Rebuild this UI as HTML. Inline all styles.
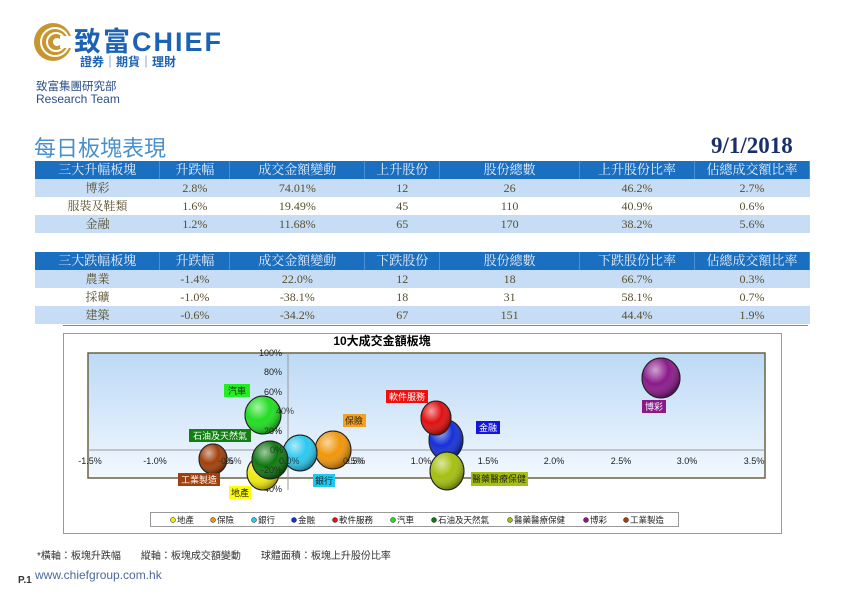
<!DOCTYPE html>
<html><head><meta charset="utf-8">
<style>
body{margin:0;width:842px;height:595px;background:#fff;position:relative;overflow:hidden;font-family:"Liberation Sans","Noto Sans CJK TC",sans-serif}
.a{position:absolute;white-space:nowrap}
table{position:absolute;left:35px;width:775px;border-collapse:collapse;font-family:"Liberation Serif","Noto Serif CJK SC",serif;font-size:12px;color:#5a4f2e}
td{text-align:center;height:18px;padding:0;line-height:18px}
tr.h td{background:#1b6fc0;color:#e8eef8;border-right:1px solid #4d8fd0;font-size:13px}
tr.b td{background:#c6ddf5}
tr.w td{background:#fff}
</style></head><body>
<svg class="a" style="left:33px;top:22px" width="40" height="40" viewBox="0 0 40 40">
<circle cx="20" cy="20" r="19" fill="#c8962e"/>
<circle cx="22" cy="20" r="14" fill="none" stroke="#fff" stroke-width="2"/>
<circle cx="23" cy="20" r="9" fill="none" stroke="#fff" stroke-width="2"/>
<circle cx="24" cy="20" r="4" fill="#fff"/>
<rect x="27" y="14" width="13" height="12" fill="#fff"/>
</svg>
<div class="a" style="left:74px;top:20px;font-size:27px;font-weight:bold;color:#1c63b5;letter-spacing:2px">致富CHIEF</div>
<div class="a" style="left:80px;top:53px;font-size:12px;color:#1c63b5;font-weight:bold">證券｜期貨｜理財</div>
<div class="a" style="left:36px;top:78px;font-size:11.5px;color:#2a4f8a">致富集團研究部</div>
<div class="a" style="left:36px;top:92px;font-size:12px;color:#2a4f8a">Research Team</div>
<div class="a" style="left:34px;top:131px;font-size:22px;color:#4a90cc">每日板塊表現</div>
<div class="a" style="left:711px;top:133px;font-size:23px;font-weight:bold;color:#1a2f6b;font-family:'Liberation Serif',serif">9/1/2018</div>
<table style="top:161px">
<colgroup><col style="width:125px"><col style="width:70px"><col style="width:135px"><col style="width:75px"><col style="width:140px"><col style="width:115px"><col style="width:115px"></colgroup>
<tr class="h"><td>三大升幅板塊</td><td>升跌幅</td><td>成交金額變動</td><td>上升股份</td><td>股份總數</td><td>上升股份比率</td><td>佔總成交額比率</td></tr>
<tr class="b"><td>博彩</td><td>2.8%</td><td>74.01%</td><td>12</td><td>26</td><td>46.2%</td><td>2.7%</td></tr>
<tr class="w"><td>服裝及鞋類</td><td>1.6%</td><td>19.49%</td><td>45</td><td>110</td><td>40.9%</td><td>0.6%</td></tr>
<tr class="b"><td>金融</td><td>1.2%</td><td>11.68%</td><td>65</td><td>170</td><td>38.2%</td><td>5.6%</td></tr>
</table>
<table style="top:252px">
<colgroup><col style="width:125px"><col style="width:70px"><col style="width:135px"><col style="width:75px"><col style="width:140px"><col style="width:115px"><col style="width:115px"></colgroup>
<tr class="h"><td>三大跌幅板塊</td><td>升跌幅</td><td>成交金額變動</td><td>下跌股份</td><td>股份總數</td><td>下跌股份比率</td><td>佔總成交額比率</td></tr>
<tr class="b"><td>農業</td><td>-1.4%</td><td>22.0%</td><td>12</td><td>18</td><td>66.7%</td><td>0.3%</td></tr>
<tr class="w"><td>採礦</td><td>-1.0%</td><td>-38.1%</td><td>18</td><td>31</td><td>58.1%</td><td>0.7%</td></tr>
<tr class="b"><td>建築</td><td>-0.6%</td><td>-34.2%</td><td>67</td><td>151</td><td>44.4%</td><td>1.9%</td></tr>
</table>
<div class="a" style="left:63px;top:325px;width:745px;height:1px;background:#888"></div>
<svg class="a" style="left:0;top:0" width="842" height="595" font-family="Liberation Sans,Noto Sans CJK TC,sans-serif">
<defs>
<linearGradient id="bg" x1="0" y1="0" x2="0" y2="1"><stop offset="0" stop-color="#bcd9f5"/><stop offset="1" stop-color="#f2f8ff"/></linearGradient>
<radialGradient id="sh" cx="0.35" cy="0.3" r="0.7"><stop offset="0" stop-color="#fff" stop-opacity="0.6"/><stop offset="0.5" stop-color="#fff" stop-opacity="0"/><stop offset="1" stop-color="#000" stop-opacity="0.35"/></radialGradient>
</defs>
<rect x="63.5" y="333.5" width="718" height="200" fill="#fff" stroke="#999"/>
<text x="382" y="345" font-size="12" font-weight="bold" text-anchor="middle" fill="#000">10大成交金額板塊</text>
<rect x="88" y="353" width="677" height="125" fill="url(#bg)" stroke="#6a6440" stroke-width="1.5"/>
<line x1="88" y1="450" x2="765" y2="450" stroke="#999"/>
<line x1="288" y1="353" x2="288" y2="490" stroke="#999"/>
<g font-size="9" fill="#222" text-anchor="end">
<text x="282" y="356">100%</text><text x="282" y="375">80%</text><text x="282" y="395">60%</text><text x="282" y="414">40%</text><text x="282" y="434">20%</text><text x="282" y="453">0%</text><text x="282" y="473">-20%</text><text x="282" y="492">-40%</text>
</g>
<g font-size="9" fill="#222" text-anchor="middle">
<text x="90" y="464">-1.5%</text><text x="155" y="464">-1.0%</text><text x="222" y="464">-0.5%</text><text x="288" y="464">0.0%</text><text x="355" y="464">0.5%</text><text x="421" y="464">1.0%</text><text x="488" y="464">1.5%</text><text x="554" y="464">2.0%</text><text x="621" y="464">2.5%</text><text x="687" y="464">3.0%</text><text x="754" y="464">3.5%</text>
</g>
<g stroke="#222" stroke-width="1">
<ellipse cx="661" cy="378" rx="19" ry="20" fill="#8a1a8a"/><ellipse cx="661" cy="378" rx="19" ry="20" fill="url(#sh)"/>
<ellipse cx="446" cy="440" rx="17" ry="20" fill="#1530d8"/><ellipse cx="446" cy="440" rx="17" ry="20" fill="url(#sh)"/>
<ellipse cx="436" cy="418" rx="15" ry="17" fill="#e01010"/><ellipse cx="436" cy="418" rx="15" ry="17" fill="url(#sh)"/>
<ellipse cx="447" cy="471" rx="17" ry="19" fill="#a5c010"/><ellipse cx="447" cy="471" rx="17" ry="19" fill="url(#sh)"/>
<ellipse cx="333" cy="450" rx="18" ry="19" fill="#f0960a"/><ellipse cx="333" cy="450" rx="18" ry="19" fill="url(#sh)"/>
<ellipse cx="300" cy="453" rx="17" ry="18" fill="#2cc8f0"/><ellipse cx="300" cy="453" rx="17" ry="18" fill="url(#sh)"/>
<ellipse cx="263" cy="415" rx="18" ry="19" fill="#22dd22"/><ellipse cx="263" cy="415" rx="18" ry="19" fill="url(#sh)"/>
<ellipse cx="263" cy="473" rx="16" ry="17" fill="#f0ea10"/><ellipse cx="263" cy="473" rx="16" ry="17" fill="url(#sh)"/>
<ellipse cx="270" cy="460" rx="18" ry="19" fill="#107810"/><ellipse cx="270" cy="460" rx="18" ry="19" fill="url(#sh)"/>
<ellipse cx="213" cy="459" rx="14" ry="15" fill="#a0400c"/><ellipse cx="213" cy="459" rx="14" ry="15" fill="url(#sh)"/>
</g>
<g font-size="9" fill="#222" opacity="0.8">
<text x="276" y="414">40%</text><text x="264" y="434">20%</text><text x="270" y="453">0%</text><text x="261" y="473">-20%</text><text x="218" y="464">-0.5%</text><text x="279" y="464">0.0%</text><text x="343" y="464">0.5%</text>
</g>
<g font-size="9">
<rect x="224" y="384" width="26" height="13" fill="#22ee22"/><text x="237" y="394" text-anchor="middle" fill="#222">汽車</text>
<rect x="189" y="429" width="62" height="13" fill="#108010"/><text x="220" y="439" text-anchor="middle" fill="#fff">石油及天然氣</text>
<rect x="178" y="473" width="42" height="13" fill="#a0400c"/><text x="199" y="483" text-anchor="middle" fill="#fff">工業製造</text>
<rect x="229" y="486" width="22" height="13" fill="#ffff00"/><text x="240" y="496" text-anchor="middle" fill="#222">地產</text>
<rect x="313" y="474" width="22" height="13" fill="#20c8f0"/><text x="324" y="484" text-anchor="middle" fill="#222">銀行</text>
<rect x="343" y="414" width="23" height="13" fill="#f5a020"/><text x="354" y="424" text-anchor="middle" fill="#222">保險</text>
<rect x="386" y="390" width="42" height="13" fill="#ee1010"/><text x="407" y="400" text-anchor="middle" fill="#fff">軟件服務</text>
<rect x="476" y="421" width="24" height="13" fill="#1515e0"/><text x="488" y="431" text-anchor="middle" fill="#fff">金融</text>
<rect x="471" y="472" width="57" height="14" fill="#a5c010"/><text x="499" y="482" text-anchor="middle" fill="#222">醫藥醫療保健</text>
<rect x="642" y="400" width="24" height="13" fill="#8a1a8a"/><text x="654" y="410" text-anchor="middle" fill="#fff">博彩</text>
</g>
<rect x="150.5" y="512.5" width="528" height="14" fill="#fff" stroke="#999"/>
<g font-size="8.5" fill="#222" stroke="#222" stroke-width="0.5">
<circle cx="173" cy="520" r="2.5" fill="#f0ea10"/><text x="177" y="523" stroke="none">地產</text>
<circle cx="213" cy="520" r="2.5" fill="#f0960a"/><text x="217" y="523" stroke="none">保險</text>
<circle cx="254" cy="520" r="2.5" fill="#2cc8f0"/><text x="258" y="523" stroke="none">銀行</text>
<circle cx="294" cy="520" r="2.5" fill="#1530d8"/><text x="298" y="523" stroke="none">金融</text>
<circle cx="335" cy="520" r="2.5" fill="#e01010"/><text x="339" y="523" stroke="none">軟件服務</text>
<circle cx="393" cy="520" r="2.5" fill="#22dd22"/><text x="397" y="523" stroke="none">汽車</text>
<circle cx="434" cy="520" r="2.5" fill="#107810"/><text x="438" y="523" stroke="none">石油及天然氣</text>
<circle cx="510" cy="520" r="2.5" fill="#a5c010"/><text x="514" y="523" stroke="none">醫藥醫療保健</text>
<circle cx="586" cy="520" r="2.5" fill="#8a1a8a"/><text x="590" y="523" stroke="none">博彩</text>
<circle cx="626" cy="520" r="2.5" fill="#a0400c"/><text x="630" y="523" stroke="none">工業製造</text>
</g>
</svg>
<div class="a" style="left:37px;top:547px;font-size:10px;color:#333">*橫軸：板塊升跌幅　　縱軸：板塊成交額變動　　球體面積：板塊上升股份比率</div>
<div class="a" style="left:18px;top:575px;font-size:10px;font-weight:bold;color:#333">P.1</div>
<div class="a" style="left:35px;top:568px;font-size:12px;color:#4a6a9a">www.chiefgroup.com.hk</div>
</body></html>
